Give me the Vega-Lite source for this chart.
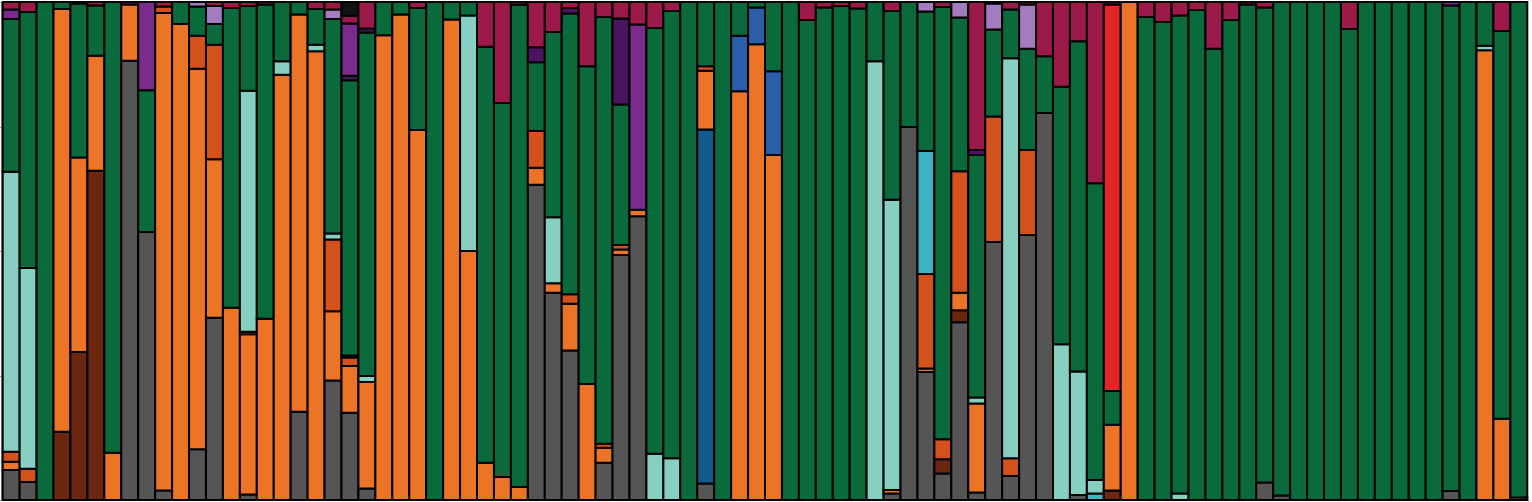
{
  "$schema": "https://vega.github.io/schema/vega-lite/v6.json",
  "autosize": {"type": "none"},
  "padding": {"left": 1, "top": 2, "right": 3, "bottom": 2},
  "width": 1528,
  "height": 498,
  "background": "white",
  "config": {"view": {"stroke": null}},
  "data": {"values": [
    {"s":1,"K01":0.060,"K04":0.017,"K05":0.020,"K07":0.562,"K09":0.307,"K12":0.019,"K14":0.015},
    {"s":2,"K01":0.036,"K05":0.027,"K07":0.403,"K09":0.514,"K14":0.020},
    {"s":3,"K09":1},
    {"s":4,"K03":0.137,"K04":0.849,"K09":0.014},
    {"s":5,"K03":0.297,"K04":0.391,"K09":0.309,"K14":0.003},
    {"s":6,"K03":0.661,"K04":0.231,"K09":0.101,"K14":0.007},
    {"s":7,"K04":0.095,"K09":0.905},
    {"s":8,"K01":0.882,"K04":0.113,"K14":0.005},
    {"s":9,"K01":0.538,"K09":0.285,"K12":0.177},
    {"s":10,"K01":0.019,"K04":0.959,"K05":0.013,"K14":0.009},
    {"s":11,"K04":0.956,"K09":0.044},
    {"s":12,"K01":0.102,"K04":0.764,"K05":0.066,"K09":0.059,"K13":0.009},
    {"s":13,"K01":0.366,"K04":0.318,"K05":0.230,"K09":0.042,"K13":0.036,"K14":0.008},
    {"s":14,"K04":0.386,"K09":0.602,"K14":0.012},
    {"s":15,"K01":0.011,"K04":0.322,"K05":0.005,"K07":0.484,"K09":0.170,"K14":0.008},
    {"s":16,"K04":0.364,"K09":0.631,"K14":0.005},
    {"s":17,"K04":0.854,"K07":0.027,"K09":0.119},
    {"s":18,"K01":0.177,"K04":0.798,"K09":0.025},
    {"s":19,"K04":0.901,"K07":0.013,"K09":0.072,"K14":0.014},
    {"s":20,"K01":0.240,"K04":0.139,"K05":0.144,"K07":0.012,"K09":0.431,"K13":0.019,"K14":0.015},
    {"s":21,"K01":0.175,"K04":0.094,"K05":0.017,"K07":0.004,"K09":0.553,"K11":0.009,"K12":0.105,"K14":0.015,"K15":0.028},
    {"s":22,"K01":0.023,"K04":0.214,"K07":0.012,"K09":0.690,"K11":0.008,"K14":0.053},
    {"s":23,"K04":0.933,"K09":0.067},
    {"s":24,"K04":0.975,"K09":0.025},
    {"s":25,"K04":0.743,"K09":0.245,"K14":0.012},
    {"s":26,"K09":1},
    {"s":27,"K04":0.965,"K09":0.035},
    {"s":28,"K04":0.500,"K07":0.473,"K09":0.027},
    {"s":29,"K04":0.075,"K09":0.835,"K14":0.090},
    {"s":30,"K04":0.046,"K09":0.751,"K14":0.203},
    {"s":31,"K04":0.026,"K09":0.969,"K14":0.005},
    {"s":32,"K01":0.633,"K04":0.034,"K05":0.074,"K09":0.138,"K11":0.030,"K14":0.091},
    {"s":33,"K01":0.416,"K04":0.019,"K07":0.133,"K09":0.372,"K14":0.060},
    {"s":34,"K01":0.300,"K04":0.094,"K05":0.019,"K09":0.564,"K11":0.011,"K14":0.012},
    {"s":35,"K04":0.233,"K09":0.638,"K14":0.129},
    {"s":36,"K01":0.075,"K04":0.030,"K05":0.008,"K09":0.857,"K14":0.030},
    {"s":37,"K01":0.492,"K04":0.011,"K05":0.009,"K09":0.282,"K11":0.173,"K14":0.033},
    {"s":38,"K01":0.570,"K04":0.013,"K12":0.372,"K14":0.045},
    {"s":39,"K07":0.093,"K09":0.855,"K14":0.052},
    {"s":40,"K07":0.084,"K09":0.898,"K14":0.018},
    {"s":41,"K09":1},
    {"s":42,"K01":0.033,"K02":0.711,"K04":0.118,"K05":0.009,"K09":0.129},
    {"s":43,"K09":1},
    {"s":44,"K04":0.821,"K08":0.111,"K09":0.068},
    {"s":45,"K04":0.915,"K08":0.074,"K09":0.011},
    {"s":46,"K04":0.693,"K08":0.168,"K09":0.139},
    {"s":47,"K09":1},
    {"s":48,"K09":0.964,"K14":0.036},
    {"s":49,"K09":0.989,"K14":0.011},
    {"s":50,"K09":0.992,"K14":0.008},
    {"s":51,"K09":0.987,"K14":0.013},
    {"s":52,"K07":0.881,"K09":0.119},
    {"s":53,"K01":0.013,"K04":0.007,"K07":0.583,"K09":0.379,"K14":0.018},
    {"s":54,"K01":0.749,"K09":0.251},
    {"s":55,"K01":0.257,"K04":0.007,"K05":0.190,"K06":0.247,"K09":0.280,"K13":0.019},
    {"s":56,"K01":0.053,"K03":0.029,"K05":0.040,"K09":0.868,"K14":0.010},
    {"s":57,"K01":0.357,"K03":0.024,"K04":0.035,"K05":0.244,"K09":0.309,"K13":0.031},
    {"s":58,"K01":0.015,"K04":0.179,"K07":0.012,"K09":0.487,"K11":0.010,"K14":0.297},
    {"s":59,"K01":0.518,"K05":0.252,"K09":0.175,"K13":0.052,"K14":0.003},
    {"s":60,"K01":0.048,"K05":0.036,"K07":0.803,"K09":0.098,"K14":0.015},
    {"s":61,"K01":0.532,"K05":0.171,"K09":0.203,"K13":0.089,"K14":0.005},
    {"s":62,"K01":0.777,"K09":0.114,"K14":0.109},
    {"s":63,"K07":0.313,"K09":0.517,"K14":0.170},
    {"s":64,"K01":0.010,"K07":0.248,"K09":0.663,"K14":0.079},
    {"s":65,"K06":0.013,"K07":0.027,"K09":0.596,"K14":0.364},
    {"s":66,"K03":0.019,"K04":0.132,"K09":0.068,"K10":0.776,"K14":0.005},
    {"s":67,"K04":1},
    {"s":68,"K09":0.970,"K14":0.030},
    {"s":69,"K09":0.960,"K14":0.040},
    {"s":70,"K07":0.013,"K09":0.960,"K14":0.027},
    {"s":71,"K09":0.984,"K14":0.016},
    {"s":72,"K09":0.906,"K14":0.094},
    {"s":73,"K09":0.964,"K14":0.036},
    {"s":74,"K09":0.995,"K14":0.005},
    {"s":75,"K01":0.035,"K09":0.954,"K14":0.011},
    {"s":76,"K01":0.009,"K09":0.991},
    {"s":77,"K09":1},
    {"s":78,"K09":1},
    {"s":79,"K09":1},
    {"s":80,"K09":0.946,"K14":0.054},
    {"s":81,"K09":1},
    {"s":82,"K09":1},
    {"s":83,"K09":1},
    {"s":84,"K09":1},
    {"s":85,"K09":1},
    {"s":86,"K01":0.018,"K09":0.975,"K12":0.007},
    {"s":87,"K09":1},
    {"s":88,"K04":0.903,"K07":0.009,"K09":0.088},
    {"s":89,"K04":0.163,"K09":0.779,"K14":0.058},
    {"s":90,"K04":0.005,"K09":0.995}
  ]},
  "transform": [
    {"fold": ["K01","K02","K03","K04","K05","K06","K07","K08","K09","K10","K11","K12","K13","K14","K15"], "as": ["cluster","q"]},
    {"filter": "isValid(datum.q) && datum.q > 0"}
  ],
  "mark": {"type": "bar", "stroke": "#000000", "strokeWidth": 2, "strokeJoin": "miter"},
  "encoding": {
    "x": {"field": "s", "type": "ordinal", "sort": "ascending",
      "scale": {"paddingInner": 0, "paddingOuter": 0.1},
      "axis": {"labels": false, "ticks": false, "title": null, "domainColor": "#999999", "domainWidth": 1}},
    "y": {"field": "q", "type": "quantitative", "stack": "normalize",
      "scale": {"domain": [0, 1], "nice": false},
      "axis": {"labels": false, "title": null, "grid": false, "values": [0, 0.25, 0.5, 0.75, 1], "tickSize": 2, "tickColor": "#999999", "domainColor": "#999999", "domainWidth": 1}},
    "color": {"field": "cluster", "type": "nominal", "legend": null,
      "scale": {
        "domain": ["K01","K02","K03","K04","K05","K06","K07","K08","K09","K10","K11","K12","K13","K14","K15"],
        "range": ["#555555","#135b8d","#6b2710","#ec7427","#d3521b","#3fb2c5","#87cfc0","#2b5ea8","#0a6a3b","#e1262a","#4b1460","#7a2b8c","#a27cbe","#9b1a4a","#111111"]}},
    "order": {"field": "cluster", "sort": "ascending"}
  }
}
